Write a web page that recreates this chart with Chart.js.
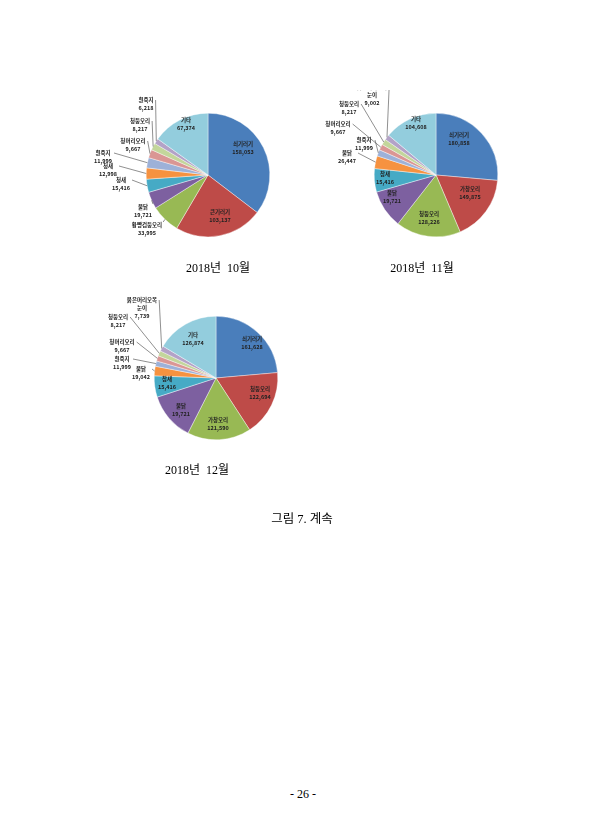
<!DOCTYPE html>
<html><head><meta charset="utf-8">
<script src="https://cdn.jsdelivr.net/npm/chart.js@4/dist/chart.umd.min.js"></script>
<style>
body{margin:0;width:607px;height:830px;background:#fff;position:relative;font-family:"Liberation Serif","Noto Sans CJK KR",serif;}
canvas{position:absolute;}
.cap{position:absolute;font-size:12px;color:#000;transform:translateX(-50%);white-space:nowrap;font-family:"Liberation Serif","Noto Sans CJK KR",serif;}
</style></head><body>
<canvas id="c1" width="240" height="170"></canvas>
<canvas id="c2" width="240" height="170"></canvas>
<canvas id="c3" width="240" height="170"></canvas>
<div class="cap" style="left:218px;top:258px">2018년&nbsp; 10월</div>
<div class="cap" style="left:422px;top:258px">2018년&nbsp; 11월</div>
<div class="cap" style="left:197px;top:460px">2018년&nbsp; 12월</div>
<div class="cap" style="left:302px;top:508px;font-size:12.5px">그림 7. 계속</div>
<div class="cap" style="left:303px;top:787px;font-size:12px">- 26 -</div>
<script>
const colors=['#4A7EBB','#BE4B48','#98B954','#7D60A0','#46AAC5','#F69240','#9DB1D8','#DA9694','#C3D69B','#B3A2C7','#93CDDD'];
// October
const octNames=['쇠기러기','큰기러기','황빵검둥오리','물닭','청새','청새','흰죽지','청머리오리','청둥오리','흰죽지','기타'];
const octValues=[158053,103137,33995,19721,15416,12998,11999,9667,8217,6218,67374];
const octLabels=['158,053','103,137','33,995','19,721','15,416','12,998','11,999','9,667','8,217','6,218','67,374'];
// November (slice sizes)
const novNames=['쇠기러기','가창오리','청둥오리','물닭','참새','물닭','흰죽지','청머리오리','청둥오리','붉은머리오목|눈이','기타'];
const novValues=[95,62,61,36,22,12,6,5.5,5.5,5,50];
const novLabels=['180,858','149,875','128,226','19,721','15,416','26,447','11,999','9,667','8,217','9,002','104,608'];
// December (slice sizes)
const decNames=['쇠기러기','청둥오리','가창오리','물닭','참새','물닭','흰죽지','청머리오리','청둥오리','붉은머리오목|눈이','기타'];
const decValues=[85,62,60,45,20,9,5,5,5,5,59];
const decLabels=['161,628','122,694','121,590','19,721','15,416','19,042','11,999','9,667','8,217','7,739','126,874'];

// label placement relative to pie centre: [dx,dy,outside]
const octPos=[[35,-27,0],[12,41,0],[-61,54,1],[-65,36,1],[-87,9,1],[-100,-5,1],[-105,-18,1],[-75,-30,1],[-68,-50,1],[-62,-71,1],[-22,-51,0]];
const novPos=[[23,-36,0],[34,18,0],[-7,43,0],[-44,22,0],[-51,3,0],[-89,-18,1],[-72,-31,1],[-98,-47,1],[-87,-67,1],[-64,-80,1],[-20,-52,0]];
const decPos=[[36,-35,0],[44,15,0],[2,46,0],[-35,32,0],[-49,5,0],[-75,-5,1],[-94,-15,1],[-94,-32,1],[-98,-57,1],[-74,-70,1],[-23,-39,0]];

const labelPlugin={id:'lbl',afterDatasetsDraw(chart){
  const ctx=chart.ctx, cfg=chart.options.plugins.lbl, meta=chart.getDatasetMeta(0);
  ctx.save();ctx.textAlign='center';ctx.textBaseline='middle';ctx.fillStyle='#222';
  meta.data.forEach((arc,i)=>{
    const p=arc.getProps(['x','y','startAngle','endAngle','outerRadius'],true);
    const [dx,dy,out]=cfg.pos[i];
    const lx=p.x+dx, ly=p.y+dy;
    const lines=cfg.names[i].split('|').concat([cfg.labels[i]]);
    ctx.font='bold 5.5px "Noto Sans CJK KR",sans-serif';
    lines.forEach((t,k)=>ctx.fillText(t,lx,ly+(k-(lines.length-1)/2)*8));
    if(out){
      const m=(p.startAngle+p.endAngle)/2;
      const ax=p.x+Math.cos(m)*p.outerRadius, ay=p.y+Math.sin(m)*p.outerRadius;
      const w=Math.max(...lines.map(t=>ctx.measureText(t).width));
      ctx.strokeStyle='#444';ctx.lineWidth=0.6;ctx.beginPath();
      const sx=lx+w/2+2, sy=ly-(lines.length-1)*4;
      if(ay<sy-3&&dx>-70){ctx.moveTo(lx+w/2+1,ly-(lines.length-1)*4-3);ctx.lineTo(ax,ay);}
      else {ctx.moveTo(sx,sy);ctx.lineTo(ax,ay);}
      ctx.stroke();
    }
  });
  ctx.restore();
}};

function make(id,cx,cy,vals,names,labels,pos){
  const el=document.getElementById(id);
  el.style.left=(cx-152)+'px';el.style.top=(cy-85)+'px';
  new Chart(el,{type:'pie',
    data:{labels:names,datasets:[{data:vals,backgroundColor:colors,borderColor:'#fff',borderWidth:0.4}]},
    options:{responsive:false,animation:false,layout:{padding:{left:90,right:26,top:23,bottom:23}},
      plugins:{legend:{display:false},tooltip:{enabled:false},lbl:{names,labels,pos}}},
    plugins:[labelPlugin]});
}
make('c1',208,175,octValues,octNames,octLabels,octPos);
make('c2',436,175,novValues,novNames,novLabels,novPos);
make('c3',216,378,decValues,decNames,decLabels,decPos);
</script>
</body></html>
